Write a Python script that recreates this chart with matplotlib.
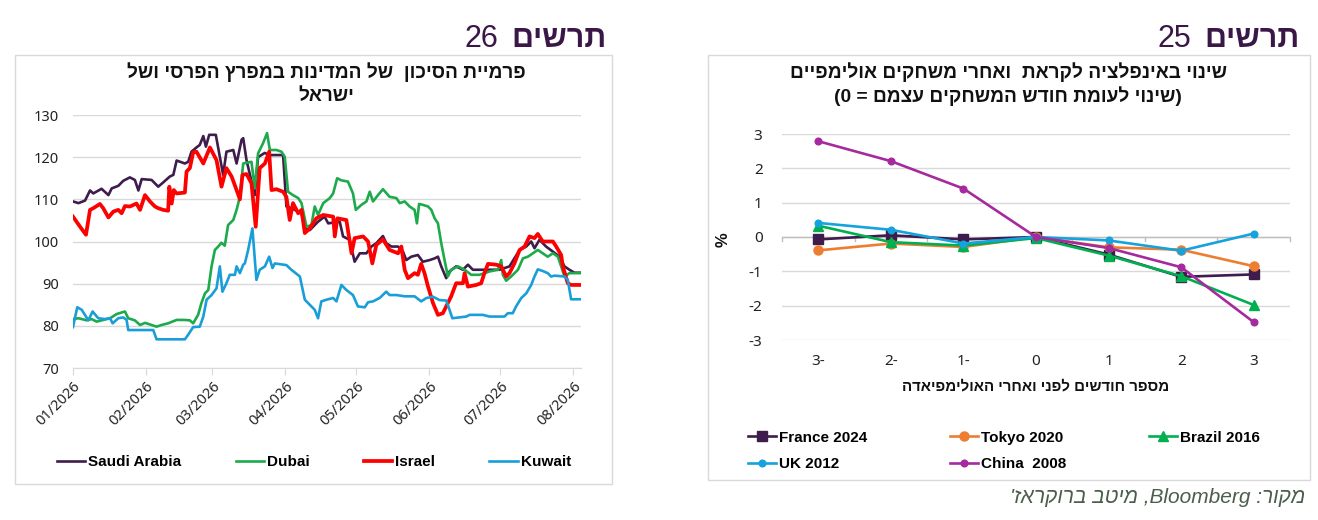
import numpy as np
import pandas as pd
import matplotlib
matplotlib.use("Agg")
import matplotlib.pyplot as plt
import matplotlib.dates as mdates
from matplotlib.patches import Rectangle

# ---------------- data: left chart (risk premium, days since 2026-01-01) ----------------
saudi_day = [0, 2.3, 5.1, 7.2, 8.6, 12.1, 15.0, 16.4, 19.2, 21.3, 24.1, 26.2, 27.7, 29.1, 33.3, 36.1, 38.2, 41.0, 42.5, 43.9,
             47.4, 48.8, 50.2, 52.3, 53.7, 55.2, 56.3, 57.7, 60.5, 63.6, 65.0, 67.9, 69.3, 71.4, 72.1, 73.5, 77.0, 78.4, 81.2, 83.4,
             89.0, 90.4, 92.5, 94.0, 96.8, 98.2, 100.3, 103.8, 106.6, 108.1, 113.0, 114.4, 117.2, 119.3, 121.5, 124.3, 126.4, 128.5,
             131.3, 132.7, 134.9, 137.7, 139.8, 141.2, 143.3, 146.1, 148.2, 151.1, 153.2, 154.6, 156.0, 158.1, 159.5, 162.3, 165.2,
             167.3, 169.4, 175.0, 180.7, 184.9, 189.2, 192.0, 194.1, 195.5, 197.6, 200.4, 203.3, 206.1, 208.2, 210.3, 212.4, 215.0]
saudi_val = [109.5, 109.1, 109.7, 112.1, 111.4, 112.5, 111.0, 112.6, 113.2, 114.4, 115.2, 114.6, 112.1, 114.8, 114.6, 113.0, 114.0,
             115.4, 115.8, 119.2, 118.5, 118.9, 121.3, 122.3, 122.9, 125.0, 122.5, 125.3, 125.3, 115.8, 121.3, 121.7, 118.5, 124.1,
             124.5, 119.3, 111.0, 120.0, 121.0, 120.5, 120.5, 108.3, 107.9, 107.5, 106.7, 103.1, 102.7, 104.7, 105.9, 104.3, 104.7,
             101.2, 100.4, 95.2, 97.2, 97.2, 98.8, 99.6, 101.3, 99.6, 98.8, 98.8, 97.6, 95.6, 96.4, 96.8, 95.2, 95.6, 96.0, 96.4,
             94.1, 91.3, 92.9, 94.1, 93.3, 94.5, 93.3, 93.3, 93.3, 94.1, 98.0, 98.8, 100.0, 98.4, 100.4, 98.8, 97.6, 96.4, 94.1,
             93.3, 92.6, 92.6]

dubai_day = [0, 2.3, 5.8, 7.9, 10.0, 12.8, 15.7, 18.5, 22.0, 23.4, 26.2, 28.4, 30.5, 33.3, 35.4, 37.5, 40.3, 43.9, 47.4, 49.5,
             50.9, 53.0, 54.4, 55.9, 57.3, 58.7, 60.1, 61.5, 62.9, 64.3, 65.7, 67.9, 69.3, 70.7, 72.1, 75.6, 77.0, 78.4, 80.5, 82.2,
             83.4, 86.2, 88.3, 89.7, 91.1, 93.2, 95.4, 96.8, 98.9, 101.0, 102.4, 103.8, 106.0, 108.8, 110.2, 111.9, 113.7, 116.5,
             118.6, 119.8, 122.2, 124.3, 125.7, 127.1, 129.2, 131.3, 134.1, 137.0, 138.4, 140.5, 142.6, 144.7, 145.7, 146.6, 148.2,
             150.4, 151.8, 153.2, 154.6, 156.0, 157.4, 158.8, 160.2, 163.1, 165.9, 168.7, 172.2, 176.5, 180.0, 181.4, 182.1, 183.5,
             185.6, 188.5, 190.6, 192.7, 194.8, 196.9, 199.0, 201.1, 203.3, 205.4, 206.8, 208.2, 210.3, 215.0]
dubai_val = [81.6, 81.8, 81.3, 81.6, 81.0, 81.4, 81.8, 82.8, 83.4, 81.8, 81.3, 80.2, 80.7, 80.2, 79.8, 80.2, 80.6, 81.4, 81.4, 81.3,
             80.6, 82.6, 85.4, 87.7, 88.5, 94.1, 98.0, 98.8, 99.7, 99.0, 103.9, 105.1, 107.5, 110.6, 118.5, 118.9, 112.6, 120.9,
             123.3, 125.7, 121.7, 121.7, 121.3, 120.1, 111.8, 111.0, 110.3, 109.1, 103.5, 103.9, 108.3, 106.3, 109.1, 110.3, 111.4,
             115.0, 114.5, 114.2, 111.4, 107.5, 108.7, 109.5, 111.8, 109.5, 111.0, 112.4, 110.6, 110.3, 109.1, 109.5, 108.3, 107.5,
             104.3, 108.9, 108.7, 108.3, 107.5, 105.5, 104.3, 99.6, 95.6, 91.7, 93.3, 94.1, 93.3, 92.1, 92.1, 92.9, 93.3, 95.6,
             92.1, 90.7, 91.7, 93.3, 96.0, 96.4, 97.2, 98.0, 97.2, 96.4, 97.2, 96.4, 94.1, 91.7, 92.5, 92.5]

israel_day = [0, 3.0, 5.5, 7.2, 8.6, 11.4, 12.8, 15.0, 17.1, 19.2, 20.6, 22.0, 24.1, 26.9, 28.4, 30.5, 32.6, 34.7, 36.1, 38.2,
              40.3, 40.8, 41.8, 42.7, 43.9, 47.4, 48.1, 49.5, 50.9, 52.3, 55.2, 58.0, 60.8, 62.9, 65.0, 67.2, 69.3, 70.7, 71.8,
              73.5, 75.6, 77.4, 79.1, 81.3, 83.1, 84.1, 86.2, 89.0, 90.4, 91.8, 93.2, 95.4, 96.8, 98.2, 100.3, 103.1, 106.0, 110.2,
              110.9, 112.0, 115.8, 118.0, 119.3, 122.9, 125.0, 126.8, 128.5, 131.3, 134.1, 137.7, 139.1, 140.5, 141.9, 144.7,
              146.1, 147.5, 148.9, 150.4, 152.5, 154.6, 156.7, 158.8, 160.2, 162.3, 165.2, 165.9, 167.3, 170.8, 172.9, 174.3,
              175.8, 179.3, 181.4, 183.5, 184.9, 187.0, 189.2, 191.3, 193.4, 195.5, 196.9, 199.0, 203.3, 204.7, 206.8, 207.5,
              209.6, 211.0, 215.0]
israel_val = [105.9, 103.5, 101.6, 107.5, 107.9, 108.9, 107.9, 105.7, 107.1, 107.5, 106.7, 108.4, 108.3, 109.0, 107.5, 111.0,
              109.5, 108.3, 107.9, 107.5, 107.3, 113.0, 109.0, 112.2, 111.4, 111.6, 116.6, 117.4, 121.1, 121.3, 118.5, 122.3,
              119.3, 113.0, 117.4, 115.4, 112.2, 110.0, 115.8, 116.0, 113.8, 103.5, 117.4, 118.5, 121.3, 112.2, 112.4, 111.8,
              110.6, 105.1, 109.1, 106.7, 107.5, 102.0, 103.1, 105.5, 106.3, 105.9, 101.2, 105.5, 105.1, 97.2, 100.8, 101.2,
              100.0, 94.8, 99.2, 100.5, 98.0, 97.2, 98.8, 93.3, 91.3, 92.5, 92.1, 94.7, 92.5, 89.3, 85.4, 82.6, 83.0, 85.4, 87.0,
              90.1, 90.1, 92.5, 89.3, 89.7, 90.1, 92.5, 94.7, 94.5, 94.1, 91.7, 92.5, 94.8, 98.0, 98.8, 101.2, 100.8, 101.8,
              100.0, 100.0, 98.8, 96.8, 94.1, 90.1, 89.7, 89.7]

kuwait_day = [0, 1.8, 3.7, 6.5, 8.3, 10.7, 13.5, 15.7, 16.8, 19.2, 21.3, 22.7, 23.4, 34.0, 35.4, 47.4, 48.8, 50.9, 53.7, 55.2,
              56.6, 58.7, 60.8, 62.2, 63.3, 65.0, 66.4, 68.6, 69.3, 70.7, 72.1, 72.8, 74.2, 76.0, 77.7, 79.1, 81.3, 83.1, 84.5,
              85.5, 90.4, 92.5, 96.1, 98.2, 100.3, 102.4, 103.8, 105.2, 107.4, 110.2, 111.6, 113.7, 115.8, 118.6, 120.7, 123.6,
              125.0, 127.1, 129.9, 132.7, 134.1, 137.0, 140.5, 144.7, 147.5, 149.7, 152.5, 155.3, 158.1, 159.5, 160.7, 166.6,
              168.0, 173.6, 176.5, 182.8, 184.2, 186.3, 187.7, 189.9, 192.0, 194.1, 195.5, 196.9, 199.0, 201.1, 202.5, 204.0,
              208.2, 209.6, 211.0, 215.0]
kuwait_val = [79.7, 84.4, 83.8, 81.3, 83.4, 81.8, 81.6, 81.8, 80.6, 81.8, 82.0, 81.4, 79.0, 79.0, 76.8, 76.8, 77.9, 79.7, 79.8,
              82.2, 86.2, 87.3, 88.9, 94.1, 88.1, 90.1, 92.1, 92.1, 94.1, 92.5, 94.5, 94.8, 98.0, 103.1, 90.9, 93.3, 94.1, 96.4,
              93.7, 94.8, 94.4, 93.3, 91.7, 86.2, 85.0, 83.8, 81.8, 85.8, 86.2, 86.6, 85.8, 89.7, 88.5, 87.3, 84.6, 84.4, 85.6,
              85.8, 86.6, 88.1, 87.3, 87.3, 87.0, 87.0, 85.8, 86.6, 86.9, 86.1, 86.0, 83.8, 81.8, 82.2, 82.6, 82.6, 82.2, 82.2,
              83.0, 83.0, 84.6, 86.6, 87.7, 89.7, 91.7, 93.4, 93.0, 92.5, 91.7, 91.9, 91.7, 90.9, 86.3, 86.3]

left_series = ["Saudi Arabia", "Dubai", "Israel", "Kuwait"]
left_yticks = [70, 80, 90, 100, 110, 120, 130]

# ---------------- data: right chart (inflation change around Olympics) ----------------
months = ["3-", "2-", "1-", "0", "1", "2", "3"]
france_2024 = [-0.07, 0.05, -0.07, 0.00, -0.51, -1.16, -1.09]
tokyo_2020 = [-0.39, -0.19, -0.29, 0.00, -0.30, -0.37, -0.85]
brazil_2016 = [0.33, -0.15, -0.25, -0.03, -0.54, -1.14, -1.98]
uk_2012 = [0.41, 0.21, -0.19, 0.00, -0.10, -0.40, 0.10]
china_2008 = [2.79, 2.21, 1.41, 0.00, -0.32, -0.88, -2.48]
right_labels = ["France 2024", "Tokyo 2020", "Brazil 2016", "UK 2012", "China  2008"]
right_yticks = [-3, -2, -1, 0, 1, 2, 3]
right_yticklabels = ["-3", "-2", "-1", "0", "1", "2", "3"]

# ---------------- texts ----------------
fig_word = "תרשים"
left_num = "26"
right_num = "25"
left_title = ["פרמיית הסיכון  של המדינות במפרץ הפרסי ושל", "ישראל"]
right_title = ["שינוי באינפלציה לקראת  ואחרי משחקים אולימפיים", "(שינוי לעומת חודש המשחקים עצמם = 0)"]
right_xlabel = "מספר חודשים לפני ואחרי האולימפיאדה"
source_text = "מקור: Bloomberg, מיטב ברוקראז'"

# ---------------- helpers ----------------
MIRROR = {"(": ")", ")": "(", "[": "]", "]": "["}


def _is_heb(c):
    return "\u0590" <= c <= "\u05FF"


def _is_ltr(c):
    return c.isascii() and c.isalnum()


def visual(s):
    """Minimal bidi reordering for an RTL paragraph."""
    types = ["R" if _is_heb(c) else ("L" if _is_ltr(c) else "N") for c in s]
    n = len(s)
    res = types[:]
    i = 0
    while i < n:
        if types[i] == "N":
            j = i
            while j < n and types[j] == "N":
                j += 1
            prev = types[i - 1] if i > 0 else "R"
            nxt = types[j] if j < n else "R"
            if prev == "L" and s[i - 1].isdigit():
                prev = "R"
            if nxt == "L" and s[j].isdigit():
                nxt = "R"
            d = "L" if (prev == "L" and nxt == "L") else "R"
            for k in range(i, j):
                res[k] = d
            i = j
        else:
            i += 1
    runs = []
    for c, t in zip(s, res):
        if runs and runs[-1][0] == t:
            runs[-1][1].append(c)
        else:
            runs.append([t, [c]])
    out = []
    for t, chars in reversed(runs):
        if t == "R":
            out.append("".join(MIRROR.get(c, c) for c in reversed(chars)))
        else:
            out.append("".join(chars))
    return "".join(out)


W, H = 1318, 520
HEB = ["Liberation Sans", "DejaVu Sans"]
LAT = ["Noto Sans", "DejaVu Sans"]
BOLDLAT = ["Liberation Sans", "DejaVu Sans"]
plt.rcParams["font.family"] = LAT
plt.rcParams["axes.unicode_minus"] = False


def fx(x):
    return x / W


def fy(y):
    return 1 - y / H


def box(x0, y0, x1, y1):
    return [fx(x0), fy(y1), (x1 - x0) / W, (y1 - y0) / H]


fig = plt.figure(figsize=(W / 100, H / 100), dpi=100)
fig.patch.set_facecolor("white")

# panel frames
for (x0, y0, x1, y1) in [(15, 55, 612, 484), (708, 55, 1310, 480)]:
    fig.patches.append(Rectangle((fx(x0), fy(y1)), (x1 - x0) / W, (y1 - y0) / H,
                                 transform=fig.transFigure, fill=False, ec="#D9D9D9", lw=1.0))

# figure headings
HEAD_COL = "#3B1748"
fig.text(fx(607), fy(47), visual(fig_word), family=HEB, fontsize=22, fontweight="bold",
         color=HEAD_COL, ha="right", va="baseline")
fig.text(fx(498), fy(47), left_num, family=HEB, fontsize=22, color=HEAD_COL, ha="right", va="baseline")
fig.text(fx(1300), fy(47), visual(fig_word), family=HEB, fontsize=22, fontweight="bold",
         color=HEAD_COL, ha="right", va="baseline")
fig.text(fx(1191), fy(47), right_num, family=HEB, fontsize=22, color=HEAD_COL, ha="right", va="baseline")

# chart titles
for i, line in enumerate(left_title):
    fig.text(fx(326), fy(72 + 24 * i), visual(line), family=HEB, fontsize=13.8, fontweight="bold",
             color="#111111", ha="center", va="center")
for i, line in enumerate(right_title):
    fig.text(fx(1008), fy(72 + 24 * i), visual(line), family=HEB, fontsize=13.8, fontweight="bold",
             color="#111111", ha="center", va="center")

# ---------------- left chart ----------------
ax1 = fig.add_axes(box(73, 115, 581, 368))
start = pd.Timestamp("2026-01-01")


def to_dates(days):
    return start + pd.to_timedelta(np.asarray(days, dtype=float), unit="D")


left_data = [(saudi_day, saudi_val, "#3E1C4C", 1.9),
             (dubai_day, dubai_val, "#1DAA4C", 1.9),
             (israel_day, israel_val, "#FF0000", 2.7),
             (kuwait_day, kuwait_val, "#1A9ED8", 1.9)]
handles1 = []
for z, ((d, v, c, lw), name) in enumerate(zip(left_data, left_series)):
    ln, = ax1.plot(to_dates(d), v, color=c, lw=lw, zorder=3 + z, solid_joinstyle="round", label=name)
    handles1.append(ln)

ax1.set_ylim(70, 130)
ax1.set_xlim(start, start + pd.Timedelta(days=215.2))
ax1.set_yticks(left_yticks)
ax1.yaxis.grid(True, color="#D9D9D9", lw=1.0)
ax1.set_axisbelow(True)
ax1.xaxis.set_major_locator(mdates.MonthLocator())
ax1.xaxis.set_major_formatter(mdates.DateFormatter("%m/%Y"))
for s in ["top", "right", "left"]:
    ax1.spines[s].set_visible(False)
ax1.spines["bottom"].set_color("#D9D9D9")
ax1.tick_params(axis="y", length=0, labelsize=10.5, labelcolor="#222222", pad=10)
ax1.tick_params(axis="x", length=5, color="#D9D9D9", labelsize=10.5, labelcolor="#222222", pad=3)
for lab in ax1.get_xticklabels():
    lab.set_rotation(45)
    lab.set_ha("right")
    lab.set_rotation_mode("anchor")

fig.legend(handles=handles1, labels=left_series, loc="center", bbox_to_anchor=(fx(314), fy(462)),
           ncol=4, frameon=False, handlelength=1.85, handletextpad=0.2, columnspacing=3.55,
           prop={"family": BOLDLAT, "weight": "bold", "size": 11})

# ---------------- right chart ----------------
ax2 = fig.add_axes(box(782, 134, 1290, 340))
xs = np.arange(len(months))
right_data = [(france_2024, "#3E1C4C", "s", 6.5),
              (tokyo_2020, "#ED7D31", "o", 6.5),
              (brazil_2016, "#00B050", "^", 7.0),
              (uk_2012, "#14A3DC", "o", 4.8),
              (china_2008, "#A42A9E", "o", 4.8)]
handles2 = []
for z, ((vals, c, m, ms), name) in enumerate(zip(right_data, right_labels)):
    ln, = ax2.plot(xs, vals, color=c, lw=1.9, marker=m, ms=ms, mfc=c, mec=c, zorder=3 + z, label=name)
    handles2.append(ln)

ax2.set_xlim(-0.5, len(months) - 0.5)
ax2.set_ylim(-3, 3)
ax2.set_yticks(right_yticks)
ax2.set_yticklabels(right_yticklabels)
ax2.set_xticks(xs)
ax2.set_xticklabels(months)
ax2.yaxis.grid(True, color="#D9D9D9", lw=1.0)
ax2.set_axisbelow(True)
for s in ax2.spines.values():
    s.set_visible(False)
ax2.axhline(0, color="#BFBFBF", lw=1.0, zorder=1)
for b in np.arange(-0.5, len(months), 1.0):
    ax2.plot([b, b], [0, -0.12], color="#BFBFBF", lw=1.0, zorder=1, clip_on=False)
ax2.tick_params(axis="y", length=0, labelsize=11, labelcolor="#222222", pad=14)
ax2.tick_params(axis="x", length=0, labelsize=11, labelcolor="#222222", pad=10)

fig.text(fx(723), fy(240), "%", family=BOLDLAT, fontsize=12, fontweight="bold", rotation=90,
         ha="center", va="center", color="#111111")
fig.text(fx(1036), fy(386), visual(right_xlabel), family=HEB, fontsize=10.8, fontweight="bold",
         ha="center", va="center", color="#111111")

order = [0, 3, 1, 4, 2]
fig.legend(handles=[handles2[i] for i in order], labels=[right_labels[i] for i in order],
           loc="upper left", bbox_to_anchor=(fx(734), fy(417)), ncol=3, frameon=False,
           handlelength=1.85, handletextpad=0.2, columnspacing=5.4, labelspacing=0.8,
           prop={"family": BOLDLAT, "weight": "bold", "size": 11})

# source
fig.text(fx(1305), fy(503), visual(source_text), family=HEB, fontsize=15, style="italic",
         color="#4B5E4B", ha="right", va="baseline")

fig.savefig("out.png", dpi=100, facecolor="white")
